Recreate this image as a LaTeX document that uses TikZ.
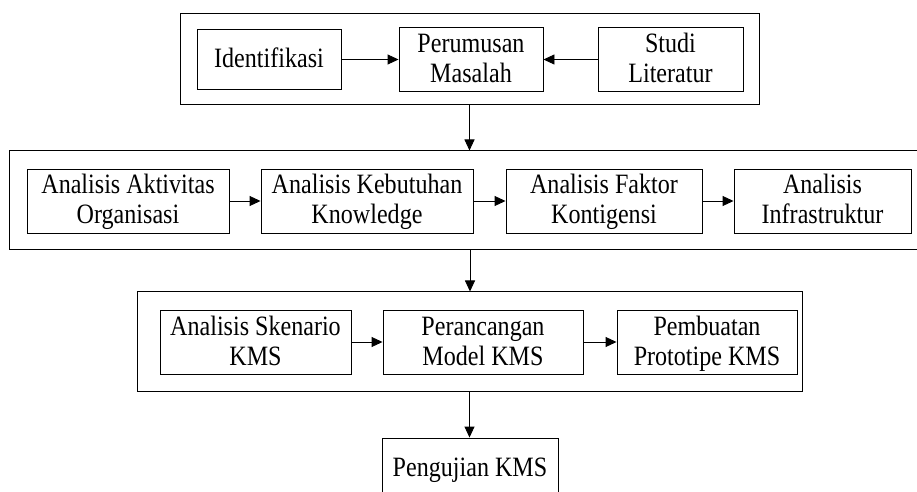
\documentclass[tikz,border=0pt]{standalone}
\usepackage{fontspec}
\setmainfont[FakeStretch=0.86]{Liberation Serif}
\usetikzlibrary{arrows.meta}
\newcommand{\topstrut}{\rule{0pt}{12.5pt}}
\newcommand{\botstrut}{\rule[-4.5pt]{0pt}{4.5pt}}
\tikzset{
  procbox/.style={draw, line width=0.45pt, minimum height=30pt, inner sep=0pt, align=center, font=\fontsize{14}{15}\selectfont},
  stagebox/.style={draw, line width=0.5pt, inner sep=0pt},
  flow/.style={line width=0.45pt, -{Triangle[length=5.5pt,width=5pt]}}
}
\newcommand{\procbox}[5]{\node[procbox, minimum width=#4*0.5pt] (#1) at ( #2 , #3 ) {\topstrut#5\botstrut};}
\newcommand{\stagebox}[5]{\node[stagebox, minimum width=#4*0.5pt, minimum height=#5*0.5pt] (#1) at ( #2 , #3 ) {};}
\begin{document}
\begin{tikzpicture}[x=0.5pt,y=-0.5pt]
        \useasboundingbox (0,0) rectangle (917,492);
        \clip (0,0) rectangle (917,492);
        % stage frames
        \stagebox{stageA}{469.5}{59.5}{579}{91}
        \stagebox{stageB}{470}{200.5}{922}{99}
        \stagebox{stageC}{469.5}{341.5}{665}{99}
        % stage 1
        \procbox{ident}{269}{59.5}{144}{Identifikasi}
        \procbox{rumus}{471}{59.5}{144}{Perumusan\\Masalah}
        \procbox{studi}{670.5}{59.5}{145}{Studi\\Literatur}
        % stage 2
        \procbox{aktivitas}{128}{201}{202}{Analisis Aktivitas\\Organisasi}
        \procbox{kebutuhan}{367}{201}{212}{Analisis Kebutuhan\\Knowledge}
        \procbox{faktor}{604}{201}{196}{Analisis Faktor\\Kontigensi}
        \procbox{infra}{822.5}{201}{177}{Analisis\\Infrastruktur}
        % stage 3
        \procbox{skenario}{255.5}{342}{191}{Analisis Skenario\\KMS}
        \procbox{rancang}{483}{342}{200}{Perancangan\\Model KMS}
        \procbox{prototipe}{707}{342}{180}{Pembuatan\\Prototipe KMS}
        % testing
        \node[procbox, minimum width=88pt, minimum height=30pt] (uji) at (470,468) {\topstrut Pengujian KMS\botstrut};
        % arrows inside stages
        \draw[flow] (ident) -- (rumus);
        \draw[flow] (studi) -- (rumus);
        \draw[flow] (aktivitas) -- (kebutuhan);
        \draw[flow] (kebutuhan) -- (faktor);
        \draw[flow] (faktor) -- (infra);
        \draw[flow] (skenario) -- (rancang);
        \draw[flow] (rancang) -- (prototipe);
        % arrows between stages
        \draw[flow] (stageA.south) -- (stageA.south |- stageB.north);
        \draw[flow] (stageB.south) -- (stageB.south |- stageC.north);
        \draw[flow] (stageC.south) -- (stageC.south |- uji.north);
\end{tikzpicture}
\end{document}
